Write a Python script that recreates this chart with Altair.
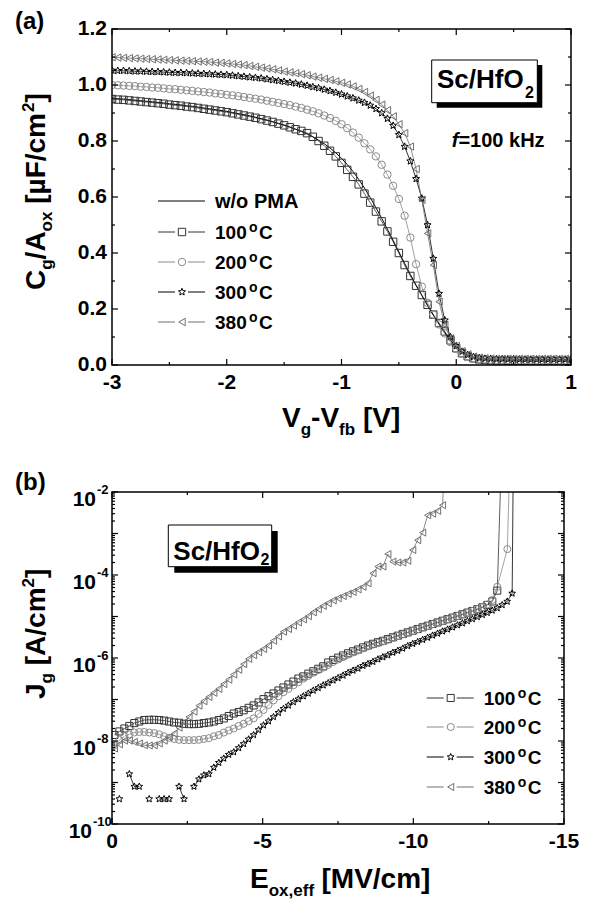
import altair as alt
import numpy as np
import pandas as pd

FONT = "Liberation Sans"

# ---------------- Panel (a): C-V curves ----------------
A_V = np.round(np.arange(-3.0, 1.0001, 0.05), 2)

A_WO = [0.953, 0.951, 0.950, 0.948, 0.946, 0.944, 0.942, 0.940, 0.938, 0.936,
        0.933, 0.931, 0.929, 0.926, 0.924, 0.921, 0.918, 0.915, 0.912, 0.909,
        0.906, 0.902, 0.898, 0.894, 0.890, 0.885, 0.880, 0.875, 0.869, 0.863,
        0.857, 0.850, 0.842, 0.834, 0.825, 0.815, 0.803, 0.790, 0.775, 0.758,
        0.738, 0.716, 0.691, 0.663, 0.632, 0.598, 0.562, 0.524, 0.485, 0.445,
        0.404, 0.363, 0.323, 0.285, 0.248, 0.212, 0.178, 0.146, 0.116, 0.088,
        0.063, 0.044, 0.032, 0.024, 0.020, 0.018, 0.017, 0.016, 0.016, 0.015,
        0.015, 0.015, 0.015, 0.014, 0.014, 0.014, 0.014, 0.014, 0.014, 0.014,
        0.014]
A_100 = [0.950, 0.948, 0.947, 0.945, 0.943, 0.941, 0.939, 0.937, 0.935, 0.933,
         0.930, 0.928, 0.926, 0.923, 0.921, 0.918, 0.915, 0.912, 0.909, 0.906,
         0.903, 0.899, 0.895, 0.891, 0.887, 0.883, 0.878, 0.873, 0.868, 0.862,
         0.856, 0.849, 0.842, 0.836, 0.828, 0.815, 0.800, 0.783, 0.765, 0.745,
         0.722, 0.697, 0.672, 0.645, 0.612, 0.580, 0.548, 0.513, 0.477, 0.440,
         0.400, 0.357, 0.318, 0.283, 0.250, 0.215, 0.180, 0.150, 0.120, 0.088,
         0.060, 0.042, 0.031, 0.024, 0.020, 0.018, 0.017, 0.016, 0.016, 0.015,
         0.015, 0.015, 0.015, 0.014, 0.014, 0.014, 0.014, 0.014, 0.014, 0.014,
         0.014]
A_200 = [1.000, 0.999, 0.998, 0.997, 0.996, 0.994, 0.993, 0.991, 0.990, 0.988,
         0.986, 0.985, 0.983, 0.981, 0.979, 0.977, 0.975, 0.973, 0.970, 0.968,
         0.965, 0.963, 0.960, 0.957, 0.954, 0.951, 0.948, 0.944, 0.940, 0.936,
         0.932, 0.928, 0.923, 0.918, 0.912, 0.906, 0.899, 0.891, 0.882, 0.872,
         0.860, 0.846, 0.830, 0.812, 0.792, 0.770, 0.745, 0.715, 0.680, 0.640,
         0.593, 0.533, 0.455, 0.360, 0.280, 0.222, 0.180, 0.145, 0.113, 0.082,
         0.057, 0.041, 0.031, 0.025, 0.022, 0.020, 0.019, 0.018, 0.018, 0.018,
         0.018, 0.018, 0.018, 0.018, 0.018, 0.018, 0.018, 0.018, 0.018, 0.018,
         0.018]
A_300 = [1.052, 1.051, 1.051, 1.050, 1.049, 1.049, 1.048, 1.047, 1.047, 1.046,
         1.045, 1.044, 1.044, 1.043, 1.042, 1.041, 1.040, 1.039, 1.038, 1.037,
         1.036, 1.034, 1.032, 1.030, 1.028, 1.026, 1.024, 1.021, 1.018, 1.015,
         1.012, 1.009, 1.006, 1.002, 0.998, 0.993, 0.989, 0.984, 0.979, 0.973,
         0.967, 0.960, 0.953, 0.945, 0.937, 0.927, 0.915, 0.900, 0.880, 0.855,
         0.822, 0.780, 0.728, 0.665, 0.595, 0.500, 0.380, 0.255, 0.160, 0.100,
         0.068, 0.048, 0.036, 0.029, 0.025, 0.023, 0.022, 0.021, 0.021, 0.021,
         0.021, 0.020, 0.020, 0.020, 0.020, 0.020, 0.020, 0.020, 0.020, 0.020,
         0.020]
A_380 = [1.099, 1.098, 1.097, 1.096, 1.095, 1.094, 1.093, 1.092, 1.091, 1.090,
         1.089, 1.088, 1.087, 1.086, 1.085, 1.084, 1.083, 1.082, 1.080, 1.079,
         1.077, 1.075, 1.073, 1.071, 1.068, 1.065, 1.062, 1.059, 1.056, 1.052,
         1.048, 1.045, 1.042, 1.039, 1.035, 1.030, 1.026, 1.022, 1.018, 1.013,
         1.008, 1.002, 0.995, 0.986, 0.975, 0.962, 0.947, 0.930, 0.910, 0.888,
         0.860, 0.828, 0.780, 0.700, 0.590, 0.470, 0.357, 0.226, 0.143, 0.095,
         0.068, 0.049, 0.038, 0.030, 0.026, 0.024, 0.023, 0.022, 0.022, 0.022,
         0.022, 0.022, 0.022, 0.022, 0.022, 0.022, 0.022, 0.022, 0.022, 0.022,
         0.022]

A_XTICKS = [-3, -2, -1, 0, 1]
A_XMINOR = [-2.5, -1.5, -0.5, 0.5]
A_YTICKS = [0.0, 0.2, 0.4, 0.6, 0.8, 1.0, 1.2]
A_YMINOR = [0.1, 0.3, 0.5, 0.7, 0.9, 1.1]

# ---------------- Panel (b): J-E curves ----------------
B_E = np.round(-0.08 - 0.165 * np.arange(81), 3)

B_100 = [1.4e-8, 1.7e-8, 2.0e-8, 2.3e-8, 2.7e-8, 2.95e-8, 3.2e-8, 3.25e-8, 3.25e-8, 3.2e-8,
         3.1e-8, 2.95e-8, 2.8e-8, 2.75e-8, 2.6e-8, 2.55e-8, 2.55e-8, 2.6e-8, 2.7e-8, 2.8e-8,
         2.95e-8, 3.2e-8, 3.5e-8, 4.0e-8, 4.6e-8, 5.0e-8, 5.5e-8, 6.3e-8, 7.2e-8, 8.5e-8,
         1.02e-7, 1.2e-7, 1.4e-7, 1.65e-7, 1.95e-7, 2.3e-7, 2.7e-7, 3.2e-7, 3.6e-7, 4.2e-7,
         4.8e-7, 5.5e-7, 6.3e-7, 7.8e-7, 9.0e-7, 1.02e-6, 1.15e-6, 1.3e-6, 1.45e-6, 1.6e-6,
         1.8e-6, 2.0e-6, 2.2e-6, 2.4e-6, 2.6e-6, 2.85e-6, 3.15e-6, 3.45e-6, 3.8e-6, 4.15e-6,
         4.55e-6, 5.0e-6, 5.5e-6, 6.0e-6, 6.6e-6, 7.2e-6, 7.9e-6, 8.6e-6, 9.4e-6, 1.03e-5,
         1.13e-5, 1.24e-5, 1.36e-5, 1.5e-5, 1.67e-5, 1.9e-5, 2.3e-5, 4.2e-5]
B_200 = [7.9e-9, 1.05e-8, 1.3e-8, 1.45e-8, 1.6e-8, 1.65e-8, 1.65e-8, 1.6e-8, 1.55e-8, 1.45e-8,
         1.3e-8, 1.2e-8, 1.12e-8, 1.07e-8, 1.05e-8, 1.05e-8, 1.05e-8, 1.07e-8, 1.12e-8, 1.17e-8,
         1.3e-8, 1.4e-8, 1.6e-8, 1.8e-8, 2.0e-8, 2.3e-8, 2.6e-8, 3.0e-8, 3.5e-8, 4.5e-8,
         5.6e-8, 7.4e-8, 9.5e-8, 1.2e-7, 1.5e-7, 1.8e-7, 2.2e-7, 2.6e-7, 3.2e-7, 3.7e-7,
         4.4e-7, 5.1e-7, 5.9e-7, 6.8e-7, 8.0e-7, 9.2e-7, 1.05e-6, 1.2e-6, 1.36e-6, 1.52e-6,
         1.7e-6, 1.9e-6, 2.1e-6, 2.3e-6, 2.5e-6, 2.75e-6, 3.05e-6, 3.35e-6, 3.7e-6, 4.05e-6,
         4.45e-6, 4.9e-6, 5.4e-6, 5.9e-6, 6.5e-6, 7.1e-6, 7.8e-6, 8.5e-6, 9.3e-6, 1.02e-5,
         1.12e-5, 1.23e-5, 1.35e-5, 1.5e-5, 1.68e-5, 1.95e-5, 2.5e-5, 5.2e-5]
B_300 = [None, 4e-10, None, 1.6e-9, 8e-10, 8e-10, None, 4e-10, None, 4e-10,
         4e-10, 4e-10, None, 8e-10, 4e-10, None, 8e-10, 1.2e-9, 1.5e-9, 1.6e-9,
         2.3e-9, 3.0e-9, 3.8e-9, 4.7e-9, 5.4e-9, 6.8e-9, 8.5e-9, 1.1e-8, 1.4e-8, 1.85e-8,
         2.4e-8, 3.0e-8, 3.8e-8, 4.8e-8, 6.0e-8, 7.2e-8, 8.7e-8, 1.02e-7, 1.2e-7, 1.4e-7,
         1.65e-7, 1.9e-7, 2.2e-7, 2.5e-7, 2.9e-7, 3.3e-7, 3.8e-7, 4.4e-7, 5.0e-7, 5.6e-7,
         6.5e-7, 7.2e-7, 8.1e-7, 9.3e-7, 1.05e-6, 1.17e-6, 1.35e-6, 1.5e-6, 1.7e-6, 1.95e-6,
         2.2e-6, 2.45e-6, 2.75e-6, 3.1e-6, 3.5e-6, 3.9e-6, 4.4e-6, 4.9e-6, 5.5e-6, 6.2e-6,
         6.9e-6, 7.8e-6, 8.7e-6, 9.8e-6, 1.1e-5, 1.23e-5, 1.4e-5, 1.6e-5, 1.9e-5, 2.3e-5,
         3.6e-5]
B_380 = [6.6e-9, 8.3e-9, 1.02e-8, 1.02e-8, 9.5e-9, 8.7e-9, 7.9e-9, 7.8e-9, 7.9e-9, 8.7e-9,
         1.02e-8, 1.23e-8, 1.5e-8, 2.1e-8, 2.8e-8, 3.8e-8, 5.1e-8, 7.1e-8, 9.1e-8, 1.15e-7,
         1.45e-7, 1.8e-7, 2.35e-7, 3.0e-7, 4.0e-7, 5.2e-7, 7.1e-7, 9.5e-7, 1.17e-6, 1.38e-6,
         1.65e-6, 2.0e-6, 2.6e-6, 3.3e-6, 4.3e-6, 5.0e-6, 6.0e-6, 7.2e-6, 8.5e-6, 1.02e-5,
         1.26e-5, 1.5e-5, 1.8e-5, 2.1e-5, 2.45e-5, 2.75e-5, 3.1e-5, 3.5e-5, 3.9e-5, 4.5e-5,
         5.2e-5, 6.3e-5, 1.1e-4, 1.6e-4, 1.6e-4, 3.2e-4, 2.1e-4, 2.0e-4, 2.0e-4, 2.2e-4,
         4.0e-4, 6.9e-4, 1.05e-3, 2.75e-3, 3.0e-3, 3.5e-3, 4.8e-3]
# breakdown tails (current jumps off the top of the axis)
B_TAIL_E = {"100": [-12.93], "200": [-13.12, -13.21], "300": [-13.32], "380": [-11.05]}
B_TAIL_J = {"100": [1e-1], "200": [4.2e-4, 1e-1], "300": [1e-1], "380": [1e-1]}

B_XTICKS = [0, -5, -10, -15]
B_XMINOR = [-2.5, -7.5, -12.5]
B_DECADES = [1e-10, 1e-9, 1e-8, 1e-7, 1e-6, 1e-5, 1e-4, 1e-3, 1e-2]
B_YMINOR = [m * d for d in B_DECADES[:-1] for m in range(2, 10)]
B_YLABELS = [1e-10, 1e-8, 1e-6, 1e-4, 1e-2]
B_YLABEL_EXP = ["-10", "-8", "-6", "-4", "-2"]

SERIES = ["100", "200", "300", "380"]
COLORS = ["#333333", "#8a8a8a", "#000000", "#707070"]
STAR = ("M0,-1L0.265,-0.364L0.951,-0.309L0.428,0.139L0.588,0.809L0,0.45"
        "L-0.588,0.809L-0.428,0.139L-0.951,-0.309L-0.265,-0.364Z")
SHAPES = ["square", "circle", STAR, "triangle-left"]

W_A, H_A = 459, 336
W_B, H_B = 452, 332
TICK_FS = 21

ONE = pd.DataFrame({"d": [0]})
color_scale = alt.Scale(domain=SERIES, range=COLORS)
shape_scale = alt.Scale(domain=SERIES, range=SHAPES)


def text(s, x, y, size=20, angle=None, align="left", baseline="alphabetic",
         style=None, color="black"):
    kw = dict(text=s, font=FONT, fontSize=size, fontWeight="bold", align=align,
              baseline=baseline, color=color)
    if angle is not None:
        kw["angle"] = angle
    if style:
        kw["fontStyle"] = style
    return alt.Chart(ONE).mark_text(**kw).encode(x=alt.value(x), y=alt.value(y))


def hseg(x1, x2, y, color, width=1.0):
    return alt.Chart(ONE).mark_rule(color=color, strokeWidth=width).encode(
        x=alt.value(x1), x2=alt.value(x2), y=alt.value(y))


def rect(x1, y1, x2, y2, **kw):
    return alt.Chart(ONE).mark_rect(**kw).encode(
        x=alt.value(x1), x2=alt.value(x2), y=alt.value(y1), y2=alt.value(y2))


def marker(x, y, shape, color, size):
    return alt.Chart(ONE).mark_point(filled=False, shape=shape, size=size, color=color,
                                     strokeWidth=1, opacity=1).encode(
        x=alt.value(x), y=alt.value(y))


def xticks(vals, scale, H, L):
    base = alt.Chart(pd.DataFrame({"t": vals})).mark_rule(color="black", strokeWidth=1.2)
    xe = alt.X("t:Q", scale=scale, axis=None)
    return [base.encode(x=xe, y=alt.value(H), y2=alt.value(H - L)),
            base.encode(x=xe, y=alt.value(0), y2=alt.value(L))]


def yticks(vals, scale, W, L):
    base = alt.Chart(pd.DataFrame({"t": vals})).mark_rule(color="black", strokeWidth=1.2)
    ye = alt.Y("t:Q", scale=scale, axis=None)
    return [base.encode(y=ye, x=alt.value(0), x2=alt.value(L)),
            base.encode(y=ye, x=alt.value(W), x2=alt.value(W - L))]


def xlabels(vals, labels, scale, H):
    df = pd.DataFrame({"t": vals, "lab": labels})
    return alt.Chart(df).mark_text(font=FONT, fontSize=TICK_FS, fontWeight="bold", align="center",
                                   baseline="top", color="black").encode(
        x=alt.X("t:Q", scale=scale, axis=None), y=alt.value(H + 7), text="lab:N")


def ylabels(vals, labels, scale):
    df = pd.DataFrame({"t": vals, "lab": labels})
    return alt.Chart(df).mark_text(font=FONT, fontSize=TICK_FS, fontWeight="bold", align="right",
                                   baseline="middle", color="black").encode(
        y=alt.Y("t:Q", scale=scale, axis=None), x=alt.value(-5), text="lab:N")


def legend(rows, x0, size):
    out = []
    for name, y in rows:
        i = SERIES.index(name)
        out += [hseg(x0, x0 + 17, y, COLORS[i]), hseg(x0 + 30, x0 + 47, y, COLORS[i]),
                marker(x0 + 24, y, SHAPES[i], COLORS[i], size),
                text(name, x0 + 57, y + 7, 19), text("o", x0 + 91, y, 14),
                text("C", x0 + 101, y + 7, 19)]
    return out


def frame(W, H):
    return rect(0, 0, W, H, fillOpacity=0, stroke="black", strokeWidth=1.5)


# ---------------- build panel (a) ----------------
xa = alt.Scale(domain=[-3, 1], nice=False, zero=False)
ya = alt.Scale(domain=[0, 1.2], nice=False, zero=False)

df_a = pd.concat([pd.DataFrame({"V": A_V, "C": v, "s": n})
                  for n, v in zip(SERIES, [A_100, A_200, A_300, A_380])])
df_wo = pd.DataFrame({"V": A_V, "C": A_WO})

enc_a = dict(x=alt.X("V:Q", scale=xa, axis=None), y=alt.Y("C:Q", scale=ya, axis=None))
lines_a = alt.Chart(df_a).mark_line(strokeWidth=0.8, clip=True).encode(
    color=alt.Color("s:N", scale=color_scale, legend=None), detail="s:N", **enc_a)
wo_a = alt.Chart(df_wo).mark_line(strokeWidth=1.0, color="black", clip=True).encode(**enc_a)
pts_a = alt.Chart(df_a).mark_point(filled=False, strokeWidth=1, opacity=1, size=55, clip=True).encode(
    color=alt.Color("s:N", scale=color_scale, legend=None),
    shape=alt.Shape("s:N", scale=shape_scale, legend=None), **enc_a)

layers_a = [rect(-104, -21, W_A + 14, H_A + 80, fill="white", opacity=0)]
layers_a += [lines_a, wo_a, pts_a]
layers_a += xticks(A_XTICKS, xa, H_A, 6) + xticks(A_XMINOR, xa, H_A, 3)
layers_a += yticks(A_YTICKS, ya, W_A, 6) + yticks(A_YMINOR, ya, W_A, 3)
layers_a += [frame(W_A, H_A),
             xlabels(A_XTICKS, [str(v) for v in A_XTICKS], xa, H_A),
             ylabels(A_YTICKS, [f"{v:.1f}" for v in A_YTICKS], ya)]
layers_a += [hseg(46, 93, 172, "black"), text("w/o PMA", 103, 179)]
layers_a += legend([("100", 203), ("200", 233), ("300", 263), ("380", 293)], 46, 55)
layers_a += [rect(324.7, 36, 430.3, 78.7, fill="black"),
             rect(319.7, 31, 425.3, 73.7, fill="white", stroke="black", strokeWidth=1),
             text("Sc/HfO", 325, 59.3, 26), text("2", 413, 69, 16),
             text("f", 339.7, 117.7, 20, style="italic"), text("=100 kHz", 346.4, 117.7, 20),
             text("(a)", -97, -19, 24, baseline="top")]
# x title
layers_a += [text("V", 170, 398, 28), text("g", 188.7, 406, 17), text("-V", 199.1, 398, 28),
             text("fb", 227.1, 406, 17), text("[V]", 251, 398, 28)]
# y title (rotated)
layers_a += [text("C", -67, 261, 28, angle=270), text("g", -60, 240.8, 17, angle=270),
             text("/A", -67, 230.4, 28, angle=270), text("ox", -60, 202.4, 17, angle=270),
             text("[\u00b5F/cm", -67, 174.8, 28, angle=270), text("2", -78, 83, 17, angle=270),
             text("]", -67, 73.5, 28, angle=270)]
panel_a = alt.layer(*layers_a).properties(width=W_A, height=H_A)

# ---------------- build panel (b) ----------------
xb = alt.Scale(domain=[0, -15], nice=False, zero=False)
yb = alt.Scale(type="log", domain=[1e-10, 1e-2], nice=False)

frames = []
for n, vals in zip(SERIES, [B_100, B_200, B_300, B_380]):
    f = pd.DataFrame({"E": list(B_E[:len(vals)]) + B_TAIL_E[n],
                      "J": list(vals) + B_TAIL_J[n], "s": n})
    f["seg"] = f["J"].isna().cumsum()
    frames.append(f.dropna())
df_b = pd.concat(frames)
df_b["g"] = df_b["s"] + "_" + df_b["seg"].astype(str)

enc_b = dict(x=alt.X("E:Q", scale=xb, axis=None), y=alt.Y("J:Q", scale=yb, axis=None))
lines_b = alt.Chart(df_b).mark_line(strokeWidth=0.8, clip=True).encode(
    color=alt.Color("s:N", scale=color_scale, legend=None), detail="g:N", **enc_b)
pts_b = alt.Chart(df_b).mark_point(filled=False, strokeWidth=1, opacity=1, size=50, clip=True).encode(
    color=alt.Color("s:N", scale=color_scale, legend=None),
    shape=alt.Shape("s:N", scale=shape_scale, legend=None), **enc_b)

ylab = pd.DataFrame({"v": B_YLABELS, "e": B_YLABEL_EXP})
ylab["long"] = ylab["e"].str.len() > 2
ye = alt.Y("v:Q", scale=yb, axis=None)
lab_base = alt.Chart(ylab)
tkw = dict(font=FONT, fontWeight="bold", color="black")
tick_labels_b = [
    lab_base.transform_filter("!datum.long").mark_text(fontSize=TICK_FS, align="right", dy=8, text="10", **tkw).encode(y=ye, x=alt.value(-16)),
    lab_base.transform_filter("datum.long").mark_text(fontSize=TICK_FS, align="right", dy=8, text="10", **tkw).encode(y=ye, x=alt.value(-20)),
    lab_base.transform_filter("!datum.long").mark_text(fontSize=13, align="left", dy=-2, **tkw).encode(y=ye, x=alt.value(-15), text="e:N"),
    lab_base.transform_filter("datum.long").mark_text(fontSize=13, align="left", dy=-2, **tkw).encode(y=ye, x=alt.value(-19), text="e:N"),
]

layers_b = [rect(-104, -22, W_B + 21, H_B + 78, fill="white", opacity=0)]
layers_b += [lines_b, pts_b]
layers_b += xticks(B_XTICKS, xb, H_B, 6) + xticks(B_XMINOR, xb, H_B, 3)
layers_b += yticks(B_DECADES, yb, W_B, 6) + yticks(B_YMINOR, yb, W_B, 3)
layers_b += [frame(W_B, H_B), xlabels(B_XTICKS, [str(v) for v in B_XTICKS], xb, H_B)]
layers_b += tick_labels_b
layers_b += legend([("100", 206), ("200", 235), ("300", 265), ("380", 295)], 314.7, 50)
layers_b += [rect(62.3, 39, 165.7, 80.7, fill="black"),
             rect(56.3, 33, 159.7, 74.7, fill="white", stroke="black", strokeWidth=1),
             text("Sc/HfO", 61.3, 68, 26), text("2", 148.5, 73, 16),
             text("(b)", -97, -21, 24, baseline="top")]
layers_b += [text("E", 138, 396, 28), text("ox,eff", 156.7, 404, 17),
             text("[MV/cm]", 209.5, 396, 28)]
layers_b += [text("J", -67, 207, 28, angle=270), text("g", -60, 191.4, 17, angle=270),
             text("[A/cm", -67, 173.2, 28, angle=270), text("2", -78, 95.4, 17, angle=270),
             text("]", -67, 85.9, 28, angle=270)]
panel_b = alt.layer(*layers_b).properties(width=W_B, height=H_B)

chart = alt.vconcat(panel_a, panel_b, spacing=25).properties(
    padding={"left": 0, "top": 0, "right": 0, "bottom": 0}
).configure_view(stroke=None)

chart.save("out.html", embed_options={"renderer": "svg", "actions": False})
